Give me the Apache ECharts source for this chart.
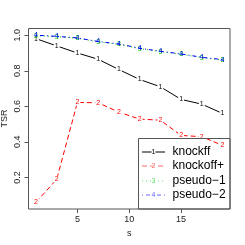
<!DOCTYPE html>
<html>
<head>
<meta charset="utf-8">
<script src="https://cdn.jsdelivr.net/npm/echarts@6/dist/echarts.min.js"></script>
<style>
html,body{margin:0;padding:0;background:#fff;}
#c{width:245px;height:245px;}
</style>
</head>
<body>
<div id="c"></div>
<script>
var sValues = [1, 3, 5, 7, 9, 11, 13, 15, 17, 19];
var knockff = [0.981, 0.940, 0.900, 0.865, 0.807, 0.751, 0.710, 0.639, 0.612, 0.560];
var knockoffPlus = [0.060, 0.189, 0.622, 0.620, 0.567, 0.528, 0.522, 0.436, 0.429, 0.380];
var pseudo1 = [0.998, 0.992, 0.983, 0.963, 0.949, 0.925, 0.908, 0.893, 0.874, 0.860];
var pseudo2 = [1.000, 0.994, 0.985, 0.965, 0.951, 0.927, 0.910, 0.895, 0.876, 0.863];
var seriesNames = ['knockff', 'knockoff+', 'pseudo\u22121', 'pseudo\u22122'];
var pointChars = ['1', '2', '3', '4'];
var xTicks = [5, 10, 15];
var yTicks = [0.2, 0.4, 0.6, 0.8, 1.0];
var xTitle = 's';
var yTitle = 'TSR';

var colors = ['#000000', '#FF0000', '#00CD00', '#0000FF'];
var dashes = ['solid', [5, 3], [1, 3], [1, 3, 4, 3]];
var allData = [knockff, knockoffPlus, pseudo1, pseudo2];
var FONT = 'Liberation Sans, Arial, Helvetica, sans-serif';

function pairs(arr) { return sValues.map(function (s, i) { return [s, arr[i]]; }); }

var series = allData.map(function (arr, k) {
  return {
    name: seriesNames[k],
    type: 'line',
    data: pairs(arr),
    symbol: 'circle',
    symbolSize: 1,
    showSymbol: true,
    itemStyle: { color: 'rgba(0,0,0,0)', borderWidth: 0 },
    silent: true,
    animation: false,
    lineStyle: { color: colors[k], width: 1, type: dashes[k] },
    label: {
      show: true,
      position: 'inside',
      formatter: pointChars[k],
      color: colors[k],
      fontSize: 7,
      fontFamily: FONT,
      backgroundColor: k < 2 ? '#fff' : 'transparent',
      padding: [0, 1]
    },
    labelLayout: { hideOverlap: false },
    z: 2 + k
  };
});

var chart = echarts.init(document.getElementById('c'), null, { renderer: 'canvas' });

var lgX = 138.5, lgY = 138.5, lgR = 230, lgB = 209;
var rowY = [152, 166, 181, 195];
var graphics = [{
  type: 'rect', shape: { x: lgX, y: lgY, width: lgR - lgX, height: lgB - lgY },
  style: { fill: 'transparent', stroke: '#555', lineWidth: 1 }, z: 100
}, {
  type: 'text', x: 5, y: 118.5, rotation: Math.PI / 2,
  style: { text: yTitle, fill: '#222', fontSize: 9, fontFamily: FONT, align: 'center', verticalAlign: 'middle' }, z: 100
}];
rowY.forEach(function (y, k) {
  graphics.push({
    type: 'line', shape: { x1: 142, y1: y, x2: 165, y2: y },
    style: { stroke: colors[k], lineWidth: 1, lineDash: dashes[k] === 'solid' ? null : dashes[k], opacity: k === 0 ? 1 : 0.6 }, z: 101
  });
  graphics.push({
    type: 'text', x: 153.5, y: y,
    style: { text: pointChars[k], fill: colors[k], fontSize: 7, fontFamily: FONT, align: 'center', verticalAlign: 'middle', backgroundColor: '#fff', opacity: k === 0 ? 1 : 0.6 }, z: 102
  });
  graphics.push({
    type: 'text', x: 172.5, y: y,
    style: { text: seriesNames[k], fill: '#000', fontSize: 12, fontFamily: FONT, align: 'left', verticalAlign: 'middle' }, z: 102
  });
});

chart.setOption({
  animation: false,
  backgroundColor: '#fff',
  grid: { left: 28.5, right: 15, top: 28.5, bottom: 36, show: true, borderColor: '#555', borderWidth: 1, backgroundColor: 'transparent', containLabel: false, outerBoundsMode: 'none' },
  xAxis: {
    type: 'value', min: 0.28, max: 19.72,
    name: xTitle, nameLocation: 'middle', nameGap: 18,
    nameTextStyle: { fontSize: 9, fontFamily: FONT, color: '#222' },
    axisLine: { show: false },
    splitLine: { show: false },
    axisTick: { show: true, length: 4, customValues: xTicks, lineStyle: { color: '#555' } },
    axisLabel: { customValues: xTicks, fontSize: 9, fontFamily: FONT, color: '#222', margin: 6 }
  },
  yAxis: {
    type: 'value', min: 0.022, max: 1.038,
    axisLine: { show: false },
    splitLine: { show: false },
    axisTick: { show: true, length: 4, customValues: yTicks, lineStyle: { color: '#555' } },
    axisLabel: { customValues: yTicks, rotate: 90, fontSize: 9, fontFamily: FONT, color: '#222', margin: 6,
      align: 'center', verticalAlign: 'bottom',
      formatter: function (v) { return v.toFixed(1); } }
  },
  series: series,
  graphic: graphics
});
</script>
</body>
</html>
